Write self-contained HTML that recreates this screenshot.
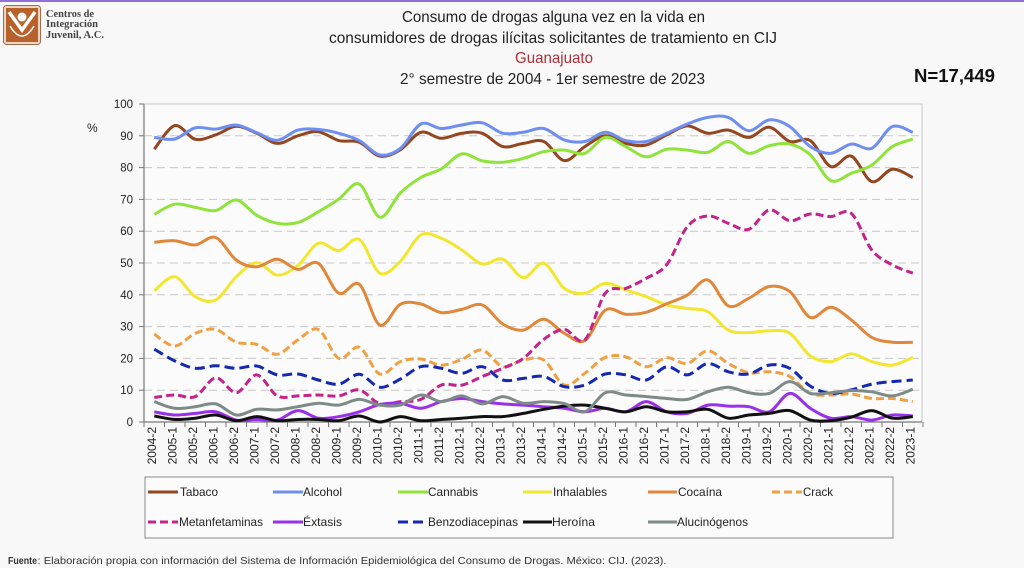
<!DOCTYPE html>
<html><head><meta charset="utf-8">
<style>
html,body{margin:0;padding:0;background:#f8f8f8;}
svg{display:block;}
text{font-family:"Liberation Sans",Arial,sans-serif;}
</style></head><body>
<svg id="s" width="1024" height="568" viewBox="0 0 1024 568" xmlns="http://www.w3.org/2000/svg">
<rect width="1024" height="568" fill="#f8f8f8"/>
<rect x="0" y="0" width="1024" height="2" fill="#9070d8"/>

<!-- logo -->
<rect x="3.5" y="5.5" width="37" height="39" rx="3" fill="#ead6c6" stroke="#a86a45" stroke-width="1"/>
<rect x="6" y="8" width="32" height="34" fill="#b8612b"/>
<polyline points="9,12 22,30 35,12" fill="none" stroke="#fff" stroke-width="3.5"/>
<circle cx="22" cy="17" r="4.5" fill="#fff"/>
<path d="M10 26 Q22 46 34 26" fill="none" stroke="#fff" stroke-width="1.5"/>
<g font-family="Liberation Serif, serif" font-weight="bold" font-size="10" fill="#444">
<text x="46" y="17" textLength="48" lengthAdjust="spacingAndGlyphs" style="font-family:'Liberation Serif',serif">Centros de</text>
<text x="46" y="27" textLength="52" lengthAdjust="spacingAndGlyphs" style="font-family:'Liberation Serif',serif">Integración</text>
<text x="46" y="38" textLength="58" lengthAdjust="spacingAndGlyphs" style="font-family:'Liberation Serif',serif">Juvenil, A.C.</text>
</g>

<!-- titles -->
<g font-size="16" fill="#222" text-anchor="middle">
<text x="553.5" y="22" textLength="303" lengthAdjust="spacingAndGlyphs">Consumo de drogas alguna vez en la vida en</text>
<text x="553" y="43" textLength="448" lengthAdjust="spacingAndGlyphs">consumidores de drogas ilícitas solicitantes de tratamiento en CIJ</text>
<text x="554" y="63" textLength="78" lengthAdjust="spacingAndGlyphs" fill="#b0303a">Guanajuato</text>
<text x="552.5" y="84" textLength="305" lengthAdjust="spacingAndGlyphs">2° semestre de 2004 - 1er semestre de 2023</text>
</g>
<text x="914" y="82" font-size="18.5" font-weight="bold" fill="#111" textLength="81" lengthAdjust="spacingAndGlyphs">N=17,449</text>

<!-- plot area -->
<rect x="144" y="104" width="778" height="318" fill="#fbfbfb" stroke="#c4c4c4" stroke-width="1"/>
<g stroke="#c8c8c8" stroke-width="1" stroke-dasharray="8,5">
<line x1="144" x2="922" y1="390.2" y2="390.2"/>
<line x1="144" x2="922" y1="358.4" y2="358.4"/>
<line x1="144" x2="922" y1="326.6" y2="326.6"/>
<line x1="144" x2="922" y1="294.8" y2="294.8"/>
<line x1="144" x2="922" y1="263" y2="263"/>
<line x1="144" x2="922" y1="231.2" y2="231.2"/>
<line x1="144" x2="922" y1="199.4" y2="199.4"/>
<line x1="144" x2="922" y1="167.6" y2="167.6"/>
<line x1="144" x2="922" y1="135.8" y2="135.8"/>
</g>
<g id="ticks" stroke="#777" stroke-width="1"></g>
<line x1="144" y1="104" x2="144" y2="422" stroke="#777" stroke-width="1.2"/>
<line x1="144" y1="422" x2="922" y2="422" stroke="#777" stroke-width="1.2"/>

<!-- y labels -->
<g font-size="11.5" fill="#222" text-anchor="end">
<text x="133" y="426">0</text>
<text x="133" y="394.2">10</text>
<text x="133" y="362.4">20</text>
<text x="133" y="330.6">30</text>
<text x="133" y="298.8">40</text>
<text x="133" y="267">50</text>
<text x="133" y="235.2">60</text>
<text x="133" y="203.4">70</text>
<text x="133" y="171.6">80</text>
<text x="133" y="139.8">90</text>
<text x="133" y="108">100</text>
</g>
<text x="87" y="132" font-size="12" fill="#222">%</text>

<!-- x labels -->
<g font-size="12" fill="#222" text-anchor="end">
<text transform="translate(156,427) rotate(-90)">2004-2</text>
<text transform="translate(176.5,427) rotate(-90)">2005-1</text>
<text transform="translate(197,427) rotate(-90)">2005-2</text>
<text transform="translate(217.5,427) rotate(-90)">2006-1</text>
<text transform="translate(238,427) rotate(-90)">2006-2</text>
<text transform="translate(258.5,427) rotate(-90)">2007-1</text>
<text transform="translate(279,427) rotate(-90)">2007-2</text>
<text transform="translate(299.5,427) rotate(-90)">2008-1</text>
<text transform="translate(320,427) rotate(-90)">2008-2</text>
<text transform="translate(340.5,427) rotate(-90)">2009-1</text>
<text transform="translate(361,427) rotate(-90)">2009-2</text>
<text transform="translate(381.5,427) rotate(-90)">2010-1</text>
<text transform="translate(402,427) rotate(-90)">2010-2</text>
<text transform="translate(422.5,427) rotate(-90)">2011-1</text>
<text transform="translate(443,427) rotate(-90)">2011-2</text>
<text transform="translate(463.5,427) rotate(-90)">2012-1</text>
<text transform="translate(484,427) rotate(-90)">2012-2</text>
<text transform="translate(504.5,427) rotate(-90)">2013-1</text>
<text transform="translate(525,427) rotate(-90)">2013-2</text>
<text transform="translate(545.5,427) rotate(-90)">2014-1</text>
<text transform="translate(566,427) rotate(-90)">2014-2</text>
<text transform="translate(586.5,427) rotate(-90)">2015-1</text>
<text transform="translate(607,427) rotate(-90)">2015-2</text>
<text transform="translate(627.5,427) rotate(-90)">2016-1</text>
<text transform="translate(648,427) rotate(-90)">2016-2</text>
<text transform="translate(668.5,427) rotate(-90)">2017-1</text>
<text transform="translate(689,427) rotate(-90)">2017-2</text>
<text transform="translate(709.5,427) rotate(-90)">2018-1</text>
<text transform="translate(730,427) rotate(-90)">2018-2</text>
<text transform="translate(750.5,427) rotate(-90)">2019-1</text>
<text transform="translate(771,427) rotate(-90)">2019-2</text>
<text transform="translate(791.5,427) rotate(-90)">2020-1</text>
<text transform="translate(812,427) rotate(-90)">2020-2</text>
<text transform="translate(832.5,427) rotate(-90)">2021-1</text>
<text transform="translate(853,427) rotate(-90)">2021-2</text>
<text transform="translate(873.5,427) rotate(-90)">2022-1</text>
<text transform="translate(894,427) rotate(-90)">2022-2</text>
<text transform="translate(914.5,427) rotate(-90)">2023-1</text>
</g>

<g id="series" fill="none" stroke-linejoin="round" stroke-linecap="butt"></g>

<!-- legend -->
<rect x="145" y="477" width="748" height="61" fill="#fbfbfb" stroke="#8a8a8a" stroke-width="1"/>
<g stroke-width="3">
<line x1="148" y1="492" x2="178" y2="492" stroke="#93461f"/>
<line x1="273" y1="492" x2="303" y2="492" stroke="#6f8ff0"/>
<line x1="398" y1="492" x2="428" y2="492" stroke="#8fe33a"/>
<line x1="523" y1="492" x2="552" y2="492" stroke="#f2e630"/>
<line x1="648" y1="492" x2="677" y2="492" stroke="#e0873a"/>
<line x1="772" y1="492" x2="802" y2="492" stroke="#f0a040" stroke-dasharray="8,4"/>
<line x1="148" y1="522" x2="178" y2="522" stroke="#c2238c" stroke-dasharray="8,4"/>
<line x1="273" y1="522" x2="303" y2="522" stroke="#9a30e8"/>
<line x1="398" y1="522" x2="428" y2="522" stroke="#1428b0" stroke-dasharray="10,5"/>
<line x1="523" y1="522" x2="552" y2="522" stroke="#111"/>
<line x1="648" y1="522" x2="677" y2="522" stroke="#7e8a88"/>
</g>
<g font-size="12" fill="#222">
<text x="180" y="496" textLength="38" lengthAdjust="spacingAndGlyphs">Tabaco</text>
<text x="303" y="496" textLength="39" lengthAdjust="spacingAndGlyphs">Alcohol</text>
<text x="428" y="496" textLength="50" lengthAdjust="spacingAndGlyphs">Cannabis</text>
<text x="553" y="496" textLength="54" lengthAdjust="spacingAndGlyphs">Inhalables</text>
<text x="678" y="496" textLength="44" lengthAdjust="spacingAndGlyphs">Cocaína</text>
<text x="803" y="496" textLength="30" lengthAdjust="spacingAndGlyphs">Crack</text>
<text x="179" y="526" textLength="84" lengthAdjust="spacingAndGlyphs">Metanfetaminas</text>
<text x="303" y="526" textLength="39" lengthAdjust="spacingAndGlyphs">Éxtasis</text>
<text x="428" y="526" textLength="90" lengthAdjust="spacingAndGlyphs">Benzodiacepinas</text>
<text x="552" y="526" textLength="43" lengthAdjust="spacingAndGlyphs">Heroína</text>
<text x="677" y="526" textLength="71" lengthAdjust="spacingAndGlyphs">Alucinógenos</text>
</g>

<!-- source -->
<text x="8" y="564" font-size="10.5" font-weight="bold" fill="#333" textLength="29" lengthAdjust="spacingAndGlyphs">Fuente</text>
<text x="37.5" y="564" font-size="10.5" fill="#333" textLength="629" lengthAdjust="spacingAndGlyphs">: Elaboración propia con información del Sistema de Información Epidemiológica del Consumo de Drogas. México: CIJ. (2023).</text>
</svg>
<script>
(function(){
var NS="http://www.w3.org/2000/svg";
var X0=154.3,DX=20.5,Y0=422,SY=3.18;
var tk=document.getElementById("ticks");
for(var k=0;k<=38;k++){var l=document.createElementNS(NS,"line");var x=144+DX*k;
l.setAttribute("x1",x);l.setAttribute("x2",x);l.setAttribute("y1",422);l.setAttribute("y2",427);tk.appendChild(l);}
for(var j=0;j<=10;j++){var l2=document.createElementNS(NS,"line");var y=422-31.8*j;
l2.setAttribute("x1",139);l2.setAttribute("x2",144);l2.setAttribute("y1",y);l2.setAttribute("y2",y);tk.appendChild(l2);}
var S=[
["#93461f",null,[85.8,93.2,88.9,90.3,93,90.8,87.6,90,91.3,88.5,88,83.6,85.6,91.1,89.2,90.8,90.8,86.6,87.6,88.2,82.2,86.6,90,87.6,87.1,90.3,93.1,90.8,91.8,89.5,92.7,88.2,88.5,80.3,83.6,75.6,79.5,76.9]],
["#6f8ff0",null,[89.5,89,92.5,92.1,93.4,91,88.6,91.8,92,90.8,88.5,84,86,93.7,92.3,93.4,94.1,90.8,91.1,92.3,88.7,88.2,91.1,88.5,88.2,90.8,93.7,95.8,95.8,91.6,95,92.9,86.6,84.5,87.4,86.1,92.9,91.1]],
["#8fe33a",null,[65.3,68.5,67.5,66.5,69.8,65,62.5,62.7,66.1,70.1,74.8,64.4,72,76.9,79.6,84.3,82.1,81.7,82.9,85,85.5,84.5,89.5,86.6,83.4,85.8,85.5,84.8,88.2,84.5,86.9,87.4,84,75.9,78.2,80.8,86.6,89]],
["#f2e630",null,[41.3,45.7,39.4,38.4,45.7,50.1,46.2,49.2,56.2,53.9,57.4,46.8,50.5,58.8,57.8,54.1,49.7,51.2,45.4,49.9,42,40.5,43.6,41.5,39.4,36.8,35.7,34.7,28.9,28.1,28.7,27.9,20.8,19,21.4,19,17.9,20.3]],
["#e0873a",null,[56.5,57,55.7,58,50.9,48.8,51.2,48,49.9,40.5,43.3,30.5,37,37.1,34.4,35.4,36.8,30.8,28.9,32.3,27.9,25.6,35.2,33.9,34.5,37.2,39.9,44.7,36.5,38.9,42.6,41,32.9,36.1,32.1,26.6,25.1,25.1]],
["#f0a040","8,4",[27.6,23.9,27.9,29.1,25.1,24.4,21.3,25.8,29.1,20,23.5,15.1,19,19.8,17.9,19.7,22.6,17.4,19.5,19.5,11.6,15.3,20.3,20.5,17.4,20.2,18.4,22.4,18.4,15.5,15.8,14.3,9,8.5,8.8,7.4,7.4,6.4]],
["#c2238c","8,4",[7.7,8.5,8,13.9,9.2,14.8,8.2,8.2,8.5,8.2,10.1,5.7,6.4,7.1,11.6,11.6,14.3,16.9,20,26,29.1,25.8,40.5,42,45.2,49.5,61.4,64.8,62.5,60.6,66.7,63.3,65.4,64.6,65.6,54.1,49.4,46.8]],
["#9a30e8",null,[3.2,2.2,2.7,3.2,0.6,0.8,0.6,3.6,1.2,1.7,3.2,5.5,5.9,4.3,6.4,7.4,6.4,5.7,5.3,4.8,4.3,3.2,4.3,3.2,6.4,3.2,2.7,5.3,5,4.8,3.2,9,4.3,1.2,1.7,0.6,2.2,1.9]],
["#1428b0","10,5",[22.9,19.2,16.9,17.7,16.9,17.6,14.8,15.1,13.2,11.9,15,10.9,13.5,17.4,16.9,15.3,17.4,13.2,13.7,14.3,11.1,11.6,15.1,14.8,13.2,17.4,14.8,18.4,15.8,15.1,17.9,16.9,11.3,9,10.1,11.9,12.7,13.2]],
["#111111",null,[1.9,0.8,1.2,2.2,0.4,1.7,0.4,0.8,0.8,0.4,1.9,0,1.7,0.4,0.8,1.2,1.7,1.7,2.7,4,5,5.3,4.3,3.2,4.8,3.2,3.2,4,1.2,2.2,2.7,3.6,0.6,0.4,1.5,3.6,1.2,1.7]],
["#7e8a88",null,[6.4,4.3,4.8,5.7,2.2,4,3.8,4.8,5.9,5.3,7.1,5.3,5.3,8.5,6.4,8.2,5.7,8,5.9,6.4,5.8,3.2,9.2,8.5,8,7.4,7.1,9.5,10.9,9.2,9,12.7,9,9.2,9.9,9.5,8.2,10.3]]
];
function f(n){return n.toFixed(1);}
var g=document.getElementById("series");
S.forEach(function(s){
 var p=s[2].map(function(v,i){return [X0+DX*i,Y0-SY*v];});
 var d="M"+f(p[0][0])+","+f(p[0][1]);
 for(var i=0;i<p.length-1;i++){
  var p0=p[i-1]||p[i],p1=p[i],p2=p[i+1],p3=p[i+2]||p2;
  var c1x=p1[0]+(p2[0]-p0[0])/6,c1y=p1[1]+(p2[1]-p0[1])/6;
  var c2x=p2[0]-(p3[0]-p1[0])/6,c2y=p2[1]-(p3[1]-p1[1])/6;
  d+="C"+f(c1x)+","+f(c1y)+" "+f(c2x)+","+f(c2y)+" "+f(p2[0])+","+f(p2[1]);
 }
 var e=document.createElementNS(NS,"path");
 e.setAttribute("d",d);e.setAttribute("stroke",s[0]);e.setAttribute("stroke-width","3");
 if(s[1])e.setAttribute("stroke-dasharray",s[1]);
 g.appendChild(e);
});
})();
</script>
</body></html>
